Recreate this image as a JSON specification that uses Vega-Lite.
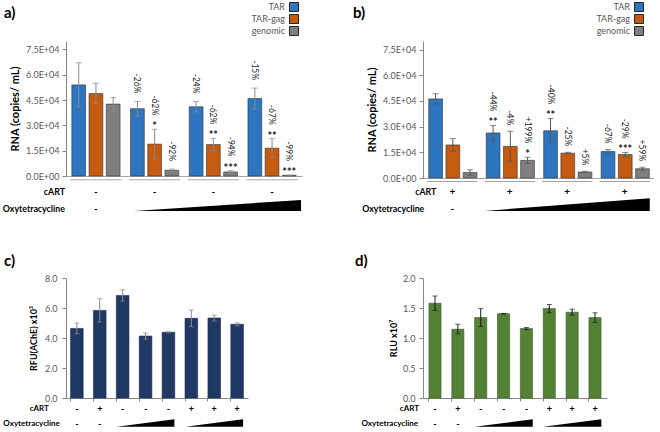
{
  "$schema": "https://vega.github.io/schema/vega-lite/v6.json",
  "padding": {"left": 2, "top": 2, "right": 0, "bottom": 0},
  "background": "white",
  "columns": 2,
  "spacing": {"row": 100, "column": 121},
  "bounds": "flush",
  "config": {
    "view": {"stroke": null},
    "font": "Lato",
    "axis": {"grid": false, "labelFont": "Lato", "titleFont": "Lato", "domainColor": "#868686", "tickColor": "#868686", "labelColor": "#595959", "titleColor": "#000000", "labelOverlap": false, "labelFlush": false},
    "title": {"font": "Lato", "fontWeight": "bold", "fontSize": 15, "anchor": "start", "frame": "group", "color": "#000000"},
    "text": {"font": "Lato"}
  },
  "resolve": {"scale": {"color": "independent"}, "legend": {"color": "independent"}},
  "concat": [
    {
      "width": 236, "height": 135,
      "title": {"text": "a)", "dx": -62, "dy": 19, "offset": 0},
      "data": {"values": [
        {"g":"1","s":"TAR","v":54000,"lo":40900,"hi":67100,"pct":"","st":""},
        {"g":"1","s":"TAR-gag","v":48900,"lo":43000,"hi":54800,"pct":"","st":""},
        {"g":"1","s":"genomic","v":42600,"lo":38700,"hi":46500,"pct":"","st":""},
        {"g":"2","s":"TAR","v":39900,"lo":35600,"hi":44200,"pct":"-26%","st":""},
        {"g":"2","s":"TAR-gag","v":18900,"lo":10100,"hi":27700,"pct":"-62%","st":"*"},
        {"g":"2","s":"genomic","v":3400,"lo":2600,"hi":4100,"pct":"-92%","st":""},
        {"g":"3","s":"TAR","v":41000,"lo":38000,"hi":44100,"pct":"-24%","st":""},
        {"g":"3","s":"TAR-gag","v":18600,"lo":15000,"hi":22300,"pct":"-62%","st":"**"},
        {"g":"3","s":"genomic","v":2400,"lo":1800,"hi":3200,"pct":"-94%","st":"***"},
        {"g":"4","s":"TAR","v":45900,"lo":39700,"hi":52100,"pct":"-15%","st":""},
        {"g":"4","s":"TAR-gag","v":16500,"lo":10900,"hi":22100,"pct":"-67%","st":"**"},
        {"g":"4","s":"genomic","v":400,"lo":200,"hi":600,"pct":"-99%","st":"***"}
      ]},
      "layer": [
        {
          "mark": {"type": "bar", "stroke": "#333333", "strokeWidth": 0.6},
          "encoding": {
            "x": {"field": "g", "type": "nominal", "scale": {"paddingInner": 0.12, "paddingOuter": 0.07}, "axis": {"labels": false, "ticks": false, "title": null, "domainColor": "#a6a6a6"}},
            "xOffset": {"field": "s", "type": "nominal", "sort": ["TAR", "TAR-gag", "genomic"], "scale": {"paddingInner": 0.2, "paddingOuter": 0.1}},
            "y": {"field": "v", "type": "quantitative", "scale": {"domain": [0, 75000]}, "axis": {"title": "RNA (copies/ mL)", "values": [0, 15000, 30000, 45000, 60000, 75000], "tickCount": 12, "labelExpr": "replace(format(datum.value, '.1e'), 'e+', 'E+0')", "labelOverlap": false, "titleFontSize": 11, "titleFontWeight": "bold", "labelFontSize": 9, "tickSize": 4, "labelPadding": 3, "titlePadding": 5}},
            "color": {"field": "s", "type": "nominal", "sort": ["TAR", "TAR-gag", "genomic"], "scale": {"domain": ["TAR", "TAR-gag", "genomic"], "range": ["#2E75C0", "#C55A11", "#7F7F7F"]},
              "legend": {"title": null, "orient": "none", "legendX": 223, "legendY": -39, "symbolType": "square", "symbolSize": 81, "symbolStrokeColor": "#262626", "symbolStrokeWidth": 1, "symbolOpacity": 1, "labelAlign": "right", "labelOffset": -14, "labelFontSize": 9, "labelColor": "#595959", "rowPadding": -4}}
          }
        },
        {
          "mark": {"type": "rule", "color": "#8a8a8a", "strokeWidth": 1},
          "encoding": {"x": {"field": "g", "type": "nominal"}, "xOffset": {"field": "s", "type": "nominal"}, "y": {"field": "lo", "type": "quantitative"}, "y2": {"field": "hi"}}
        },
        {
          "mark": {"type": "tick", "color": "#8a8a8a", "size": 6, "thickness": 1},
          "encoding": {"x": {"field": "g", "type": "nominal"}, "xOffset": {"field": "s", "type": "nominal"}, "y": {"field": "lo", "type": "quantitative"}}
        },
        {
          "mark": {"type": "tick", "color": "#8a8a8a", "size": 6, "thickness": 1},
          "encoding": {"x": {"field": "g", "type": "nominal"}, "xOffset": {"field": "s", "type": "nominal"}, "y": {"field": "hi", "type": "quantitative"}}
        },
        {
          "transform": [{"filter": "datum.st != ''"}],
          "mark": {"type": "text", "baseline": "alphabetic", "dy": 1, "fontSize": 11, "fontWeight": "bold", "color": "#262626"},
          "encoding": {"x": {"field": "g", "type": "nominal"}, "xOffset": {"field": "s", "type": "nominal"}, "y": {"field": "hi", "type": "quantitative"}, "text": {"field": "st"}}
        },
        {
          "transform": [{"filter": "datum.pct != '' && datum.st == ''"}],
          "mark": {"type": "text", "angle": 90, "align": "right", "baseline": "middle", "dx": -8, "fontSize": 8.5, "color": "#262626"},
          "encoding": {"x": {"field": "g", "type": "nominal"}, "xOffset": {"field": "s", "type": "nominal"}, "y": {"field": "hi", "type": "quantitative"}, "text": {"field": "pct"}}
        },
        {
          "transform": [{"filter": "datum.pct != '' && datum.st != ''"}],
          "mark": {"type": "text", "angle": 90, "align": "right", "baseline": "middle", "dx": -14, "fontSize": 8.5, "color": "#262626"},
          "encoding": {"x": {"field": "g", "type": "nominal"}, "xOffset": {"field": "s", "type": "nominal"}, "y": {"field": "hi", "type": "quantitative"}, "text": {"field": "pct"}}
        },
        {
          "data": {"values": [
            {"g":"1","cart":"-","oxy":"-","tri":false},
            {"g":"2","cart":"-","oxy":"","tri":false},
            {"g":"3","cart":"-","oxy":"","tri":true},
            {"g":"4","cart":"-","oxy":"","tri":false}
          ]},
          "layer": [
            {"mark": {"type": "bar", "color": "#a6a6a6"}, "encoding": {"x": {"field": "g", "type": "nominal"}, "y": {"datum": -1950}, "y2": {"datum": -2550}}},
            {"mark": {"type": "text", "fontSize": 10, "fontWeight": "bold", "baseline": "middle", "color": "#000000"}, "encoding": {"x": {"field": "g", "type": "nominal"}, "y": {"datum": -9280}, "text": {"field": "cart"}}},
            {"transform": [{"filter": "datum.oxy != ''"}], "mark": {"type": "text", "fontSize": 10, "fontWeight": "bold", "baseline": "middle", "color": "#000000"}, "encoding": {"x": {"field": "g", "type": "nominal"}, "y": {"datum": -19830}, "text": {"field": "oxy"}}},
            {"transform": [{"filter": "datum.tri"}], "mark": {"type": "point", "shape": "M -0.95 0.066 L 1.05 0.066 L 1.05 -0.066 Z", "size": 27889, "filled": true, "color": "#000000", "opacity": 1, "strokeWidth": 0}, "encoding": {"x": {"field": "g", "type": "nominal"}, "y": {"datum": -17500}}},
            {"transform": [{"filter": "datum.g == '1'"}], "mark": {"type": "text", "fontSize": 8.8, "fontWeight": "bold", "align": "right", "baseline": "middle", "dx": -31, "color": "#000000"}, "encoding": {"x": {"field": "g", "type": "nominal"}, "y": {"datum": -9280}, "text": {"value": "cART"}}},
            {"transform": [{"filter": "datum.g == '1'"}], "mark": {"type": "text", "fontSize": 8.8, "fontWeight": "bold", "align": "right", "baseline": "middle", "dx": -31, "color": "#000000"}, "encoding": {"x": {"field": "g", "type": "nominal"}, "y": {"datum": -19830}, "text": {"value": "Oxytetracycline"}}}
          ]
        }
      ]
    },
    {
      "width": 231, "height": 137,
      "title": {"text": "b)", "dx": -70, "dy": 19, "offset": 0},
      "data": {"values": [
        {"g":"1","s":"TAR","v":46200,"lo":43200,"hi":49200,"pct":"","st":""},
        {"g":"1","s":"TAR-gag","v":19300,"lo":15600,"hi":23000,"pct":"","st":""},
        {"g":"1","s":"genomic","v":3200,"lo":1600,"hi":4800,"pct":"","st":""},
        {"g":"2","s":"TAR","v":26300,"lo":21800,"hi":30700,"pct":"-44%","st":"**"},
        {"g":"2","s":"TAR-gag","v":18500,"lo":9700,"hi":27300,"pct":"-4%","st":""},
        {"g":"2","s":"genomic","v":10300,"lo":8500,"hi":12100,"pct":"+199%","st":"*"},
        {"g":"3","s":"TAR","v":27600,"lo":20400,"hi":34800,"pct":"-40%","st":"**"},
        {"g":"3","s":"TAR-gag","v":14500,"lo":14000,"hi":15000,"pct":"-25%","st":""},
        {"g":"3","s":"genomic","v":3500,"lo":3100,"hi":3900,"pct":"+5%","st":""},
        {"g":"4","s":"TAR","v":15500,"lo":14500,"hi":16600,"pct":"-67%","st":""},
        {"g":"4","s":"TAR-gag","v":13700,"lo":12500,"hi":14900,"pct":"-29%","st":"***"},
        {"g":"4","s":"genomic","v":5400,"lo":4500,"hi":6300,"pct":"+59%","st":""}
      ]},
      "layer": [
        {
          "mark": {"type": "bar", "stroke": "#333333", "strokeWidth": 0.6},
          "encoding": {
            "x": {"field": "g", "type": "nominal", "scale": {"paddingInner": 0.12, "paddingOuter": 0.07}, "axis": {"labels": false, "ticks": false, "title": null, "domainColor": "#a6a6a6"}},
            "xOffset": {"field": "s", "type": "nominal", "sort": ["TAR", "TAR-gag", "genomic"], "scale": {"paddingInner": 0.2, "paddingOuter": 0.1}},
            "y": {"field": "v", "type": "quantitative", "scale": {"domain": [0, 75000]}, "axis": {"title": "RNA (copies/ mL)", "values": [0, 15000, 30000, 45000, 60000, 75000], "tickCount": 12, "labelExpr": "replace(format(datum.value, '.1e'), 'e+', 'E+0')", "labelOverlap": false, "titleFontSize": 11, "titleFontWeight": "bold", "labelFontSize": 9, "tickSize": 4, "labelPadding": 3, "titlePadding": 5}},
            "color": {"field": "s", "type": "nominal", "sort": ["TAR", "TAR-gag", "genomic"], "scale": {"domain": ["TAR", "TAR-gag", "genomic"], "range": ["#2E75C0", "#C55A11", "#7F7F7F"]},
              "legend": {"title": null, "orient": "none", "legendX": 211, "legendY": -39, "symbolType": "square", "symbolSize": 81, "symbolStrokeColor": "#262626", "symbolStrokeWidth": 1, "symbolOpacity": 1, "labelAlign": "right", "labelOffset": -14, "labelFontSize": 9, "labelColor": "#595959", "rowPadding": -4}}
          }
        },
        {
          "mark": {"type": "rule", "color": "#595959", "strokeWidth": 1},
          "encoding": {"x": {"field": "g", "type": "nominal"}, "xOffset": {"field": "s", "type": "nominal"}, "y": {"field": "lo", "type": "quantitative"}, "y2": {"field": "hi"}}
        },
        {
          "mark": {"type": "tick", "color": "#595959", "size": 6, "thickness": 1},
          "encoding": {"x": {"field": "g", "type": "nominal"}, "xOffset": {"field": "s", "type": "nominal"}, "y": {"field": "lo", "type": "quantitative"}}
        },
        {
          "mark": {"type": "tick", "color": "#595959", "size": 6, "thickness": 1},
          "encoding": {"x": {"field": "g", "type": "nominal"}, "xOffset": {"field": "s", "type": "nominal"}, "y": {"field": "hi", "type": "quantitative"}}
        },
        {
          "transform": [{"filter": "datum.st != ''"}],
          "mark": {"type": "text", "baseline": "alphabetic", "dy": 1, "fontSize": 11, "fontWeight": "bold", "color": "#262626"},
          "encoding": {"x": {"field": "g", "type": "nominal"}, "xOffset": {"field": "s", "type": "nominal"}, "y": {"field": "hi", "type": "quantitative"}, "text": {"field": "st"}}
        },
        {
          "transform": [{"filter": "datum.pct != '' && datum.st == ''"}],
          "mark": {"type": "text", "angle": 90, "align": "right", "baseline": "middle", "dx": -6, "fontSize": 8.5, "color": "#262626"},
          "encoding": {"x": {"field": "g", "type": "nominal"}, "xOffset": {"field": "s", "type": "nominal"}, "y": {"field": "hi", "type": "quantitative"}, "text": {"field": "pct"}}
        },
        {
          "transform": [{"filter": "datum.pct != '' && datum.st != ''"}],
          "mark": {"type": "text", "angle": 90, "align": "right", "baseline": "middle", "dx": -14, "fontSize": 8.5, "color": "#262626"},
          "encoding": {"x": {"field": "g", "type": "nominal"}, "xOffset": {"field": "s", "type": "nominal"}, "y": {"field": "hi", "type": "quantitative"}, "text": {"field": "pct"}}
        },
        {
          "data": {"values": [
            {"g":"1","cart":"+","oxy":"-","tri":false},
            {"g":"2","cart":"+","oxy":"","tri":false},
            {"g":"3","cart":"+","oxy":"","tri":true},
            {"g":"4","cart":"+","oxy":"","tri":false}
          ]},
          "layer": [
            {"mark": {"type": "bar", "color": "#a6a6a6"}, "encoding": {"x": {"field": "g", "type": "nominal"}, "y": {"datum": -1800}, "y2": {"datum": -2350}}},
            {"mark": {"type": "text", "fontSize": 10, "fontWeight": "bold", "baseline": "middle", "color": "#000000"}, "encoding": {"x": {"field": "g", "type": "nominal"}, "y": {"datum": -8200}, "text": {"field": "cart"}}},
            {"transform": [{"filter": "datum.oxy != ''"}], "mark": {"type": "text", "fontSize": 10, "fontWeight": "bold", "baseline": "middle", "color": "#000000"}, "encoding": {"x": {"field": "g", "type": "nominal"}, "y": {"datum": -17900}, "text": {"field": "oxy"}}},
            {"transform": [{"filter": "datum.tri"}], "mark": {"type": "point", "shape": "M -1 0.077 L 1 0.077 L 1 -0.077 Z", "size": 27225, "filled": true, "color": "#000000", "opacity": 1, "strokeWidth": 0}, "encoding": {"x": {"field": "g", "type": "nominal"}, "y": {"datum": -15500}}},
            {"transform": [{"filter": "datum.g == '1'"}], "mark": {"type": "text", "fontSize": 8.8, "fontWeight": "bold", "align": "right", "baseline": "middle", "dx": -16, "color": "#000000"}, "encoding": {"x": {"field": "g", "type": "nominal"}, "y": {"datum": -8200}, "text": {"value": "cART"}}},
            {"transform": [{"filter": "datum.g == '1'"}], "mark": {"type": "text", "fontSize": 8.8, "fontWeight": "bold", "align": "right", "baseline": "middle", "dx": -28, "color": "#000000"}, "encoding": {"x": {"field": "g", "type": "nominal"}, "y": {"datum": -17900}, "text": {"value": "Oxytetracycline"}}}
          ]
        }
      ]
    },
    {
      "width": 182, "height": 120,
      "title": {"text": "c)", "dx": -62, "dy": -5, "offset": 0},
      "data": {"values": [
        {"g":"1","v":4.64,"lo":4.28,"hi":5.0},
        {"g":"2","v":5.84,"lo":5.06,"hi":6.62},
        {"g":"3","v":6.84,"lo":6.46,"hi":7.22},
        {"g":"4","v":4.13,"lo":3.93,"hi":4.33},
        {"g":"5","v":4.38,"lo":4.34,"hi":4.42},
        {"g":"6","v":5.31,"lo":4.75,"hi":5.87},
        {"g":"7","v":5.33,"lo":5.13,"hi":5.53},
        {"g":"8","v":4.91,"lo":4.81,"hi":5.01}
      ]},
      "layer": [
        {
          "mark": {"type": "bar", "color": "#1F3864", "stroke": "#15264a", "strokeWidth": 0.6},
          "encoding": {
            "x": {"field": "g", "type": "nominal", "scale": {"paddingInner": 0.45, "paddingOuter": 0.2}, "axis": {"labels": false, "ticks": true, "bandPosition": 0, "tickSize": 3, "title": null, "domainColor": "#868686"}},
            "y": {"field": "v", "type": "quantitative", "scale": {"domain": [0, 8]}, "axis": {"title": "RFU(AChE) x10³", "values": [0, 2, 4, 6, 8], "tickCount": 12, "format": ".1f", "labelOverlap": false, "titleFontSize": 9, "titleFontWeight": "bold", "labelFontSize": 9, "tickSize": 4, "labelPadding": 5, "titlePadding": 6}}
          }
        },
        {
          "mark": {"type": "rule", "color": "#8c8c8c", "strokeWidth": 1},
          "encoding": {"x": {"field": "g", "type": "nominal"}, "y": {"field": "lo", "type": "quantitative"}, "y2": {"field": "hi"}}
        },
        {
          "mark": {"type": "tick", "color": "#8c8c8c", "size": 5, "thickness": 1},
          "encoding": {"x": {"field": "g", "type": "nominal"}, "y": {"field": "lo", "type": "quantitative"}}
        },
        {
          "mark": {"type": "tick", "color": "#8c8c8c", "size": 5, "thickness": 1},
          "encoding": {"x": {"field": "g", "type": "nominal"}, "y": {"field": "hi", "type": "quantitative"}}
        },
        {
          "data": {"values": [
            {"g":"1","cart":"-","oxy":"-","tri":false},
            {"g":"2","cart":"+","oxy":"-","tri":false},
            {"g":"3","cart":"-","oxy":"","tri":false},
            {"g":"4","cart":"-","oxy":"","tri":true},
            {"g":"5","cart":"-","oxy":"","tri":false},
            {"g":"6","cart":"+","oxy":"","tri":false},
            {"g":"7","cart":"+","oxy":"","tri":true},
            {"g":"8","cart":"+","oxy":"","tri":false}
          ]},
          "layer": [
            {"mark": {"type": "text", "fontSize": 9, "fontWeight": "bold", "baseline": "middle", "color": "#000000"}, "encoding": {"x": {"field": "g", "type": "nominal"}, "y": {"datum": -0.7}, "text": {"field": "cart"}}},
            {"transform": [{"filter": "datum.oxy != ''"}], "mark": {"type": "text", "fontSize": 9, "fontWeight": "bold", "baseline": "middle", "color": "#000000"}, "encoding": {"x": {"field": "g", "type": "nominal"}, "y": {"datum": -1.733}, "text": {"field": "oxy"}}},
            {"transform": [{"filter": "datum.tri"}], "mark": {"type": "point", "shape": "M -1 0.128 L 1 0.128 L 1 -0.128 Z", "size": 3318, "filled": true, "color": "#000000", "opacity": 1, "strokeWidth": 0}, "encoding": {"x": {"field": "g", "type": "nominal"}, "y": {"datum": -1.667}}},
            {"transform": [{"filter": "datum.g == '1'"}], "mark": {"type": "text", "fontSize": 8, "fontWeight": "bold", "align": "right", "baseline": "middle", "dx": -28, "color": "#000000"}, "encoding": {"x": {"field": "g", "type": "nominal"}, "y": {"datum": -0.7}, "text": {"value": "cART"}}},
            {"transform": [{"filter": "datum.g == '1'"}], "mark": {"type": "text", "fontSize": 8, "fontWeight": "bold", "align": "right", "baseline": "middle", "dx": -17, "color": "#000000"}, "encoding": {"x": {"field": "g", "type": "nominal"}, "y": {"datum": -1.733}, "text": {"value": "Oxytetracycline"}}}
          ]
        }
      ]
    },
    {
      "width": 184, "height": 120,
      "title": {"text": "d)", "dx": -68, "dy": -5, "offset": 0},
      "data": {"values": [
        {"g":"1","v":1.58,"lo":1.46,"hi":1.70},
        {"g":"2","v":1.146,"lo":1.07,"hi":1.23},
        {"g":"3","v":1.34,"lo":1.19,"hi":1.49},
        {"g":"4","v":1.405,"lo":1.40,"hi":1.41},
        {"g":"5","v":1.157,"lo":1.14,"hi":1.175},
        {"g":"6","v":1.49,"lo":1.42,"hi":1.56},
        {"g":"7","v":1.43,"lo":1.38,"hi":1.48},
        {"g":"8","v":1.34,"lo":1.26,"hi":1.42}
      ]},
      "layer": [
        {
          "mark": {"type": "bar", "color": "#548235", "stroke": "#3a5c24", "strokeWidth": 0.6},
          "encoding": {
            "x": {"field": "g", "type": "nominal", "scale": {"paddingInner": 0.47, "paddingOuter": 0.26}, "axis": {"labels": false, "ticks": true, "bandPosition": 0, "tickSize": 3, "title": null, "domainColor": "#868686"}},
            "y": {"field": "v", "type": "quantitative", "scale": {"domain": [0, 2]}, "axis": {"title": "RLU x10⁷", "values": [0, 0.5, 1, 1.5, 2], "tickCount": 12, "format": ".1f", "labelOverlap": false, "titleFontSize": 9, "titleFontWeight": "bold", "labelFontSize": 9, "tickSize": 4, "labelPadding": 4, "titlePadding": 4}}
          }
        },
        {
          "mark": {"type": "rule", "color": "#1a1a1a", "strokeWidth": 1},
          "encoding": {"x": {"field": "g", "type": "nominal"}, "y": {"field": "lo", "type": "quantitative"}, "y2": {"field": "hi"}}
        },
        {
          "mark": {"type": "tick", "color": "#1a1a1a", "size": 5, "thickness": 1},
          "encoding": {"x": {"field": "g", "type": "nominal"}, "y": {"field": "lo", "type": "quantitative"}}
        },
        {
          "mark": {"type": "tick", "color": "#1a1a1a", "size": 5, "thickness": 1},
          "encoding": {"x": {"field": "g", "type": "nominal"}, "y": {"field": "hi", "type": "quantitative"}}
        },
        {
          "data": {"values": [
            {"g":"1","cart":"-","oxy":"-","tri":false},
            {"g":"2","cart":"+","oxy":"-","tri":false},
            {"g":"3","cart":"-","oxy":"","tri":false},
            {"g":"4","cart":"-","oxy":"","tri":true},
            {"g":"5","cart":"-","oxy":"","tri":false},
            {"g":"6","cart":"+","oxy":"","tri":false},
            {"g":"7","cart":"+","oxy":"","tri":true},
            {"g":"8","cart":"+","oxy":"","tri":false}
          ]},
          "layer": [
            {"mark": {"type": "text", "fontSize": 9, "fontWeight": "bold", "baseline": "middle", "color": "#000000"}, "encoding": {"x": {"field": "g", "type": "nominal"}, "y": {"datum": -0.175}, "text": {"field": "cart"}}},
            {"transform": [{"filter": "datum.oxy != ''"}], "mark": {"type": "text", "fontSize": 9, "fontWeight": "bold", "baseline": "middle", "color": "#000000"}, "encoding": {"x": {"field": "g", "type": "nominal"}, "y": {"datum": -0.433}, "text": {"field": "oxy"}}},
            {"transform": [{"filter": "datum.tri"}], "mark": {"type": "point", "shape": "M -1 0.127 L 1 0.127 L 1 -0.127 Z", "size": 3400, "filled": true, "color": "#000000", "opacity": 1, "strokeWidth": 0}, "encoding": {"x": {"field": "g", "type": "nominal"}, "y": {"datum": -0.417}}},
            {"transform": [{"filter": "datum.g == '1'"}], "mark": {"type": "text", "fontSize": 8, "fontWeight": "bold", "align": "right", "baseline": "middle", "dx": -16, "color": "#000000"}, "encoding": {"x": {"field": "g", "type": "nominal"}, "y": {"datum": -0.175}, "text": {"value": "cART"}}},
            {"transform": [{"filter": "datum.g == '1'"}], "mark": {"type": "text", "fontSize": 8, "fontWeight": "bold", "align": "right", "baseline": "middle", "dx": -17, "color": "#000000"}, "encoding": {"x": {"field": "g", "type": "nominal"}, "y": {"datum": -0.433}, "text": {"value": "Oxytetracycline"}}}
          ]
        }
      ]
    }
  ]
}
